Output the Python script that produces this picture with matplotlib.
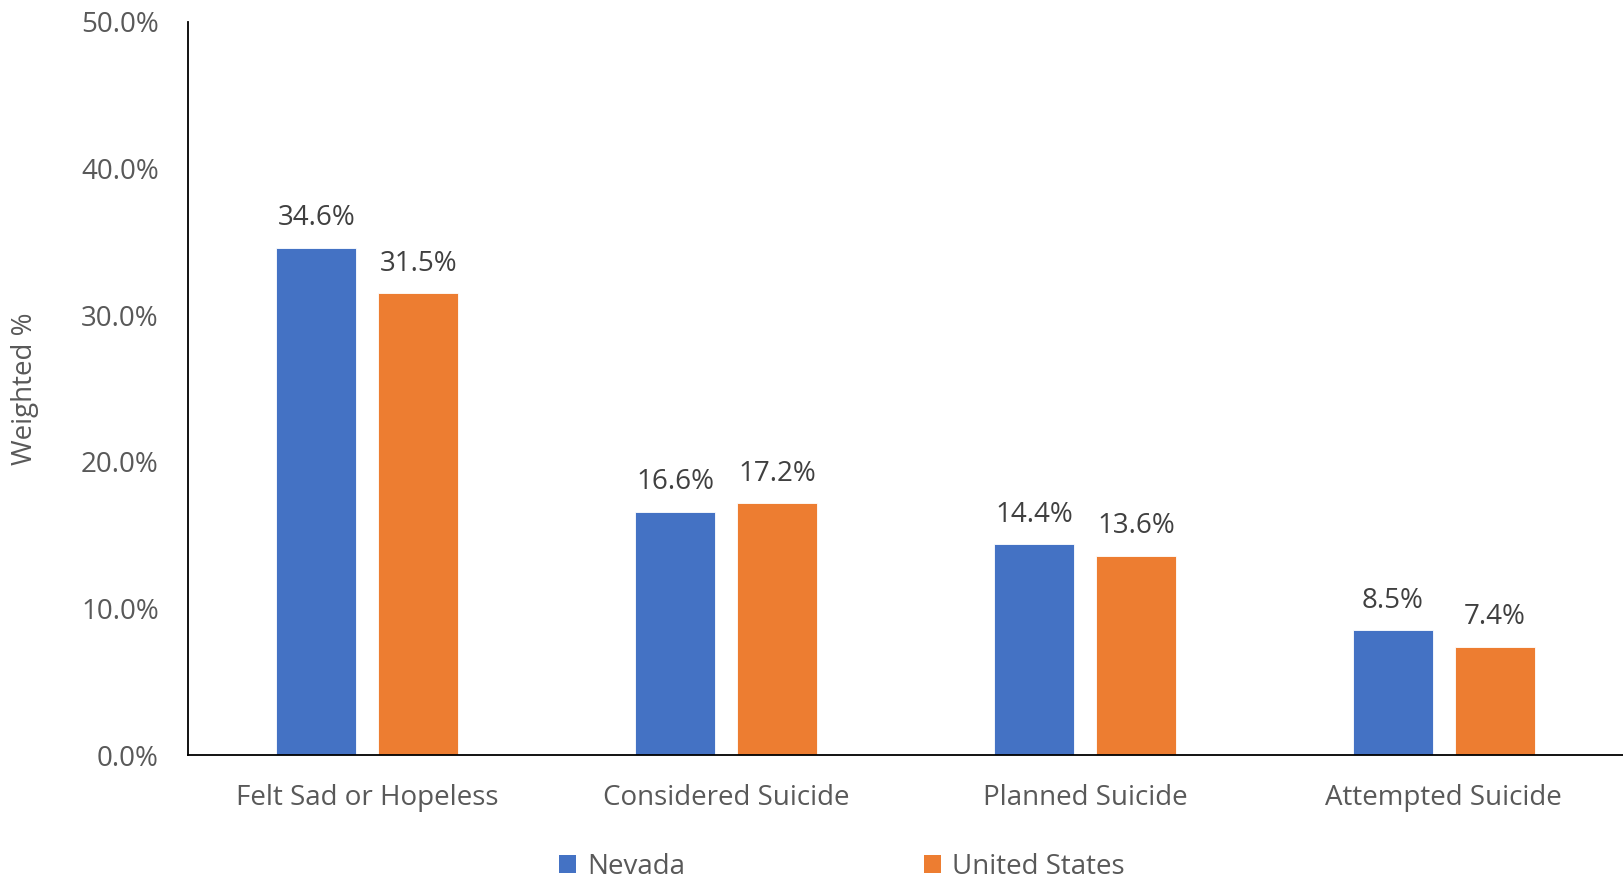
import matplotlib
matplotlib.use("Agg")
import matplotlib.pyplot as plt
import numpy as np
from matplotlib.patches import Patch

categories = ["Felt Sad or Hopeless", "Considered Suicide", "Planned Suicide", "Attempted Suicide"]
nevada = [34.6, 16.6, 14.4, 8.5]
united_states = [31.5, 17.2, 13.6, 7.4]
series_names = ["Nevada", "United States"]
yticks = [0, 10, 20, 30, 40, 50]

plt.rcParams['font.family'] = ['Open Sans', 'DejaVu Sans']

BLUE = "#4472C4"
ORANGE = "#ED7D31"
TICK = "#595959"
LABEL = "#404040"
FS = 20

fig = plt.figure(figsize=(16.23, 8.82), dpi=100)
ax = fig.add_axes([188/1623, 1 - 755/882, 1 - 188/1623, (755 - 22)/882])

x = np.arange(len(categories))
w = 0.223
off = 0.142
b1 = ax.bar(x - off, nevada, w, color=BLUE, edgecolor="white", linewidth=0.6)
b2 = ax.bar(x + off, united_states, w, color=ORANGE, edgecolor="white", linewidth=0.6)

for bars, vals in ((b1, nevada), (b2, united_states)):
    for r, v in zip(bars, vals):
        ax.annotate(f"{v:.1f}%", (r.get_x() + r.get_width()/2, v), xytext=(0, 11),
                    textcoords="offset points", ha="center", va="bottom",
                    fontsize=FS, color=LABEL)

ax.set_xlim(-0.5, len(categories) - 0.5)
ax.set_ylim(0, 50)
ax.set_yticks(yticks)
ax.set_yticklabels([f"{t:.1f}%" for t in yticks], fontsize=FS, color=TICK)
ax.set_xticks(x)
ax.set_xticklabels(categories, fontsize=FS, color=TICK)
ax.tick_params(axis="both", length=0)
ax.tick_params(axis="y", pad=21)
ax.tick_params(axis="x", pad=21)
for s in ("top", "right"):
    ax.spines[s].set_visible(False)
for s in ("left", "bottom"):
    ax.spines[s].set_color("black")
    ax.spines[s].set_linewidth(1.3)
ax.set_ylabel("Weighted %", fontsize=FS, color=TICK, labelpad=30)

handles = [Patch(facecolor=BLUE), Patch(facecolor=ORANGE)]
fig.legend(handles, series_names, loc="center", bbox_to_anchor=(842/1623, 1 - 867/882),
           ncol=2, frameon=False, fontsize=FS, labelcolor=TICK,
           handlelength=0.6, handleheight=0.6, handletextpad=0.4, columnspacing=8.6)

fig.savefig("out.png", dpi=100)
